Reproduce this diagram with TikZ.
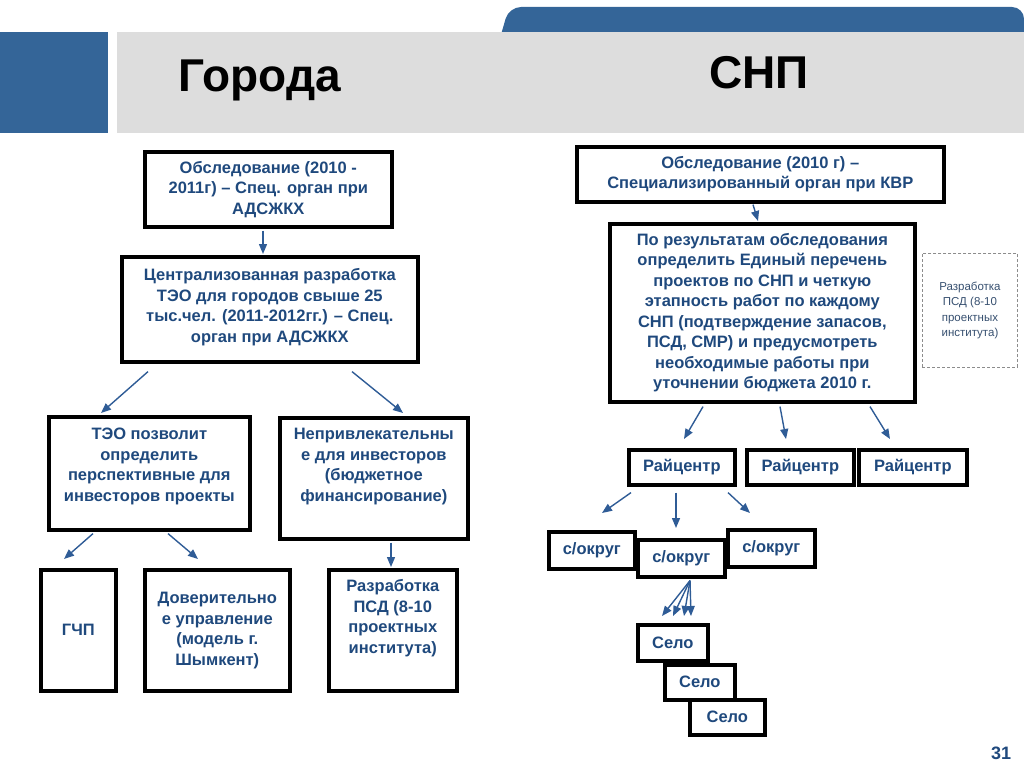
\documentclass[tikz,border=0pt]{standalone}
\usepackage{fontspec}
\setmainfont{Liberation Sans}
\usetikzlibrary{arrows.meta,calc}
\definecolor{hdrblue}{RGB}{52,101,152}
\definecolor{hdrgray}{RGB}{221,221,221}
\definecolor{txtblue}{RGB}{31,73,125}
\definecolor{arrblue}{RGB}{47,92,150}
\definecolor{dashgray}{RGB}{140,140,140}
\definecolor{smalltxt}{RGB}{55,80,112}
\newcommand{\ctx}[3]{\parbox[c][#2pt][c]{#1pt}{\centering #3\par}}
\newcommand{\ttx}[4]{\parbox[c][#2pt][t]{#1pt}{\centering\rule{0pt}{#3pt}#4\par}}
\tikzset{
  box/.style={draw=black, line width=3.6pt, fill=white, inner sep=0pt, anchor=north west,
    text=txtblue, font=\bfseries\fontsize{16.5}{20.5}\selectfont},
  dbox/.style={draw=dashgray, line width=0.9pt, dash pattern=on 3pt off 2pt, fill=white,
    inner sep=0pt, anchor=north west, text=smalltxt, font=\fontsize{11.5}{15.5}\selectfont},
  arr/.style={draw=arrblue, line width=1.4pt, -{Triangle[length=10pt,width=8pt]}},
  ttl/.style={anchor=base, text=black, font=\bfseries\fontsize{46}{50}\selectfont}
}
\begin{document}
\begin{tikzpicture}[x=1pt,y=-1pt]
\useasboundingbox (0,0) rectangle (1024,768);
% header
\fill[hdrblue, rounded corners=12pt] (498,45) -- (509,7) -- (1024,7) -- (1024,45) -- cycle;
\fill[hdrblue] (0,32) rectangle (108,133);
\fill[hdrgray] (117,32) rectangle (1024,133);
\node[ttl] (tgor) at (260,91) {Города};
\node[ttl] (tsnp) at (759,88) {СНП};
% left column
\node[box] (L1) at (143,150) {\ctx{247}{75}{Обследование (2010 -\\2011г) – Спец. орган при\\АДСЖКХ}};
\node[box] (L2) at (120,255) {\ttx{296}{105}{24}{Централизованная разработка\\ТЭО для городов свыше 25\\тыс.чел. (2011-2012гг.) – Спец.\\орган при АДСЖКХ}};
\node[box] (L3) at (47,415) {\ttx{201}{113}{23}{ТЭО позволит\\определить\\перспективные для\\инвесторов проекты}};
\node[box] (L4) at (278,416) {\ttx{188}{121}{22}{Непривлекательны\\е для инвесторов\\(бюджетное\\финансирование)}};
\node[box] (L5) at (39,568) {\ctx{75}{121}{ГЧП}};
\node[box] (L6) at (143,568) {\ctx{145}{121}{Доверительно\\е управление\\(модель г.\\Шымкент)}};
\node[box] (L7) at (327,568) {\ttx{128}{121}{22}{Разработка\\ПСД (8-10\\проектных\\института)}};
% right column
\node[box] (R1) at (575,145) {\ctx{367}{55}{Обследование (2010 г) –\\Специализированный орган при КВР}};
\node[box] (R2) at (608,222) {\ctx{305}{178}{По результатам обследования\\определить Единый перечень\\проектов по СНП и четкую\\этапность работ по каждому\\СНП (подтверждение запасов,\\ПСД, СМР) и предусмотреть\\необходимые работы при\\уточнении бюджета 2010 г.}};
\node[dbox] (R3) at (922,253) {\ctx{95}{114}{Разработка\\ПСД (8-10\\проектных\\института)}};
\node[box] (Rc1) at (627,448) {\ctx{106}{35}{Райцентр}};
\node[box] (Rc2) at (745,448) {\ctx{107}{35}{Райцентр}};
\node[box] (Rc3) at (857,448) {\ctx{108}{35}{Райцентр}};
\node[box] (Ok1) at (547,530) {\ctx{86}{37}{с/округ}};
\node[box] (Ok3) at (726,528) {\ctx{87}{37}{с/округ}};
\node[box] (Ok2) at (636,538) {\ctx{87}{37}{с/округ}};
\node[box] (S1) at (636,623) {\ctx{70}{36}{Село}};
\node[box] (S2) at (663,663) {\ctx{70}{35}{Село}};
\node[box] (S3) at (688,698) {\ctx{75}{35}{Село}};
% arrows left
\draw[arr] ($(L1.south west)+(120,2)$) -- ($(L2.north west)+(143,-1)$);
\draw[arr] ($(L2.south west)+(28,8)$) -- ($(L3.north west)+(54,-2)$);
\draw[arr] ($(L2.south west)+(232,8)$) -- ($(L4.north west)+(125,-3)$);
\draw[arr] ($(L3.south west)+(46,2)$) -- ($(L5.north west)+(25,-9)$);
\draw[arr] ($(L3.south west)+(121,2)$) -- ($(L6.north west)+(55,-9)$);
\draw[arr] ($(L4.south west)+(113,2)$) -- ($(L7.north west)+(64,-1)$);
% arrows right
\draw[arr] ($(R1.south west)+(178,1)$) -- ($(R2.north west)+(150,-1)$);
\draw[arr] ($(R2.south west)+(95,3)$) -- ($(Rc1.north west)+(57,-9)$);
\draw[arr] ($(R2.south west)+(172,3)$) -- ($(Rc2.north west)+(41,-9)$);
\draw[arr] ($(R2.south west)+(262,3)$) -- ($(Rc3.north west)+(33,-9)$);
\draw[arr] ($(Rc1.south west)+(4,6)$) -- ($(Ok1.north west)+(55,-17)$);
\draw[arr] ($(Rc1.south west)+(49,6)$) -- ($(Ok2.north west)+(40,-10)$);
\draw[arr] ($(Rc1.south west)+(101,6)$) -- ($(Ok3.north west)+(24,-15)$);
\draw[arr] ($(Ok2.south west)+(54,2)$) -- ($(S1.north west)+(26,-7)$);
\draw[arr] ($(Ok2.south west)+(54,2)$) -- ($(S1.north west)+(37,-7)$);
\draw[arr] ($(Ok2.south west)+(54,2)$) -- ($(S1.north west)+(48,-7)$);
\draw[arr] ($(Ok2.south west)+(54,2)$) -- ($(S1.north west)+(55,-7)$);
% page number
\node[anchor=base, text=txtblue, font=\bfseries\fontsize{18}{20}\selectfont] (pnum) at (1001,759) {31};
\end{tikzpicture}
\end{document}
